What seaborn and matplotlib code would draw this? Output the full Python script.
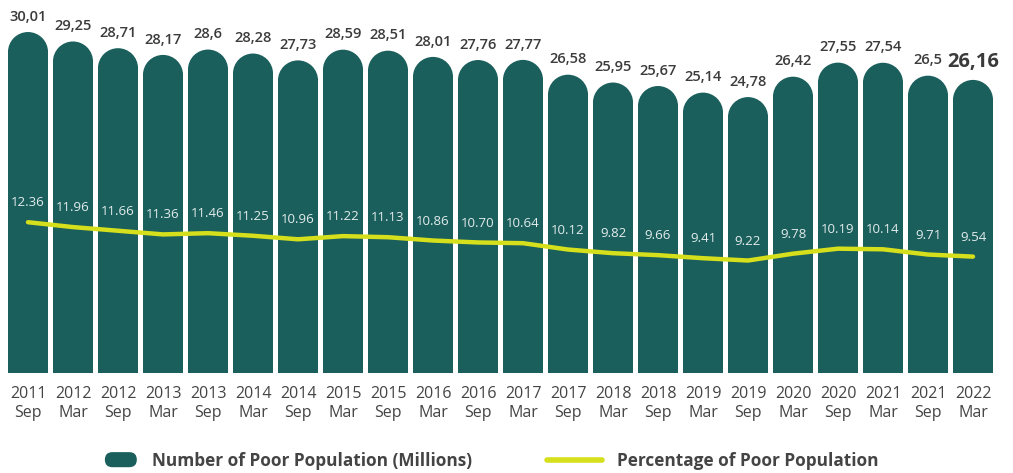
import numpy as np
import pandas as pd
import matplotlib
matplotlib.use("Agg")
import matplotlib.pyplot as plt
import seaborn as sns
from matplotlib.patches import Ellipse, FancyBboxPatch
from matplotlib.lines import Line2D
from matplotlib.legend_handler import HandlerBase

# data
periods = ["2011 Sep", "2012 Mar", "2012 Sep", "2013 Mar", "2013 Sep", "2014 Mar",
           "2014 Sep", "2015 Mar", "2015 Sep", "2016 Mar", "2016 Sep", "2017 Mar",
           "2017 Sep", "2018 Mar", "2018 Sep", "2019 Mar", "2019 Sep", "2020 Mar",
           "2020 Sep", "2021 Mar", "2021 Sep", "2022 Mar"]
poor_millions = [30.01, 29.25, 28.71, 28.17, 28.6, 28.28, 27.73, 28.59, 28.51, 28.01, 27.76,
                 27.77, 26.58, 25.95, 25.67, 25.14, 24.78, 26.42, 27.55, 27.54, 26.5, 26.16]
poor_pct = [12.36, 11.96, 11.66, 11.36, 11.46, 11.25, 10.96, 11.22, 11.13, 10.86, 10.70,
            10.64, 10.12, 9.82, 9.66, 9.41, 9.22, 9.78, 10.19, 10.14, 9.71, 9.54]
bar_labels = ["30,01", "29,25", "28,71", "28,17", "28,6", "28,28", "27,73", "28,59", "28,51",
              "28,01", "27,76", "27,77", "26,58", "25,95", "25,67", "25,14", "24,78", "26,42",
              "27,55", "27,54", "26,5", "26,16"]
pct_labels = ["12.36", "11.96", "11.66", "11.36", "11.46", "11.25", "10.96", "11.22", "11.13",
              "10.86", "10.70", "10.64", "10.12", "9.82", "9.66", "9.41", "9.22", "9.78",
              "10.19", "10.14", "9.71", "9.54"]

TEAL = "#1a5f5c"
LIME = "#d5df1b"
DARK = "#3b3b3b"

sns.set_theme(style="white")
plt.rcParams["font.family"] = ["Open Sans", "DejaVu Sans"]

df = pd.DataFrame({
    "period": [p.replace(" ", "\n") for p in periods],
    "poor": poor_millions,
    "pct": poor_pct,
})
df["pos"] = np.arange(len(df))

fig = plt.figure(figsize=(10.13, 4.73), dpi=100)
ax1 = fig.add_axes([0, 1 - 373 / 473, 1, 373 / 473])

sns.barplot(data=df, x="period", y="poor", ax=ax1, color=TEAL, saturation=1, width=0.89)

# y scale: 12.44 px per unit, baseline at 2.6
px_per_unit = 12.44
y0 = 2.6
ax1.set_ylim(y0, y0 + 373 / px_per_unit)
r = 20 / px_per_unit  # cap radius in data units

for bar, val in zip(ax1.patches, poor_millions):
    bar.set_height(val - r)
    bar.set_linewidth(0)
    cx = bar.get_x() + bar.get_width() / 2
    ax1.add_patch(Ellipse((cx, val - r), bar.get_width(), 2 * r, color=TEAL, lw=0))

for i, (val, lab) in enumerate(zip(poor_millions, bar_labels)):
    last = i == len(poor_millions) - 1
    ax1.annotate(lab, (i, val), xytext=(0, 6), textcoords="offset points",
                 ha="center", va="bottom", color=DARK,
                 fontsize=14.5 if last else 10.5, fontweight="bold" if last else "semibold")

ax2 = ax1.twinx()
sns.lineplot(data=df, x="pos", y="pct", ax=ax2, color=LIME, lw=3.2)
ax2.set_ylim(0, 373 / 12.2)
for i, (val, lab) in enumerate(zip(poor_pct, pct_labels)):
    ax2.annotate(lab, (i, val), xytext=(0, 14), textcoords="offset points",
                 ha="center", va="center", color="#e3ecec", fontsize=9.5)

for ax in (ax1, ax2):
    for s in ax.spines.values():
        s.set_visible(False)
    ax.set_ylabel("")
    ax.set_xlabel("")
    ax.set_yticks([])
    ax.grid(False)
ax1.tick_params(axis="x", length=0, pad=9, labelsize=11.5, labelcolor="#444444")
for t in ax1.get_xticklabels():
    t.set_linespacing(1.25)
ax1.set_xlim(-28 / 45, (1013 - 28) / 45)


class PillHandler(HandlerBase):
    def create_artists(self, legend, orig_handle, xdescent, ydescent, width, height, fontsize, trans):
        w = width * 0.58
        h = height * 1.25
        p = FancyBboxPatch((width - w - xdescent, -ydescent + (height - h) / 2), w, h,
                           boxstyle=f"round,pad=0,rounding_size={h / 2}",
                           fc=TEAL, ec="none", transform=trans)
        return [p]


bar_handle = FancyBboxPatch((0, 0), 1, 1, fc=TEAL)
line_handle = Line2D([], [], color=LIME, lw=4, solid_capstyle="round")
leg = fig.legend([bar_handle, line_handle],
                 ["Number of Poor Population (Millions)", "Percentage of Poor Population"],
                 handler_map={FancyBboxPatch: PillHandler()},
                 loc="center", bbox_to_anchor=(0.474, 0.026), ncol=2, frameon=False,
                 handlelength=3.2, handletextpad=0.87, columnspacing=4.36,
                 prop={"size": 12.4, "weight": "bold"})
for t in leg.get_texts():
    t.set_color("#444444")

fig.savefig("out.png", dpi=100)
